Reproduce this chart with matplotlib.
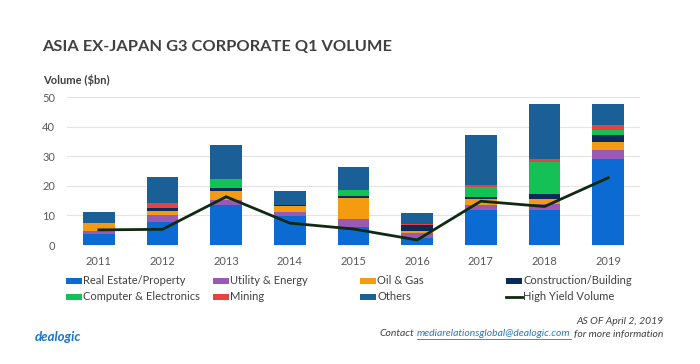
import matplotlib
matplotlib.use("Agg")
import matplotlib.pyplot as plt
import numpy as np
from matplotlib.patches import Patch, Rectangle
from matplotlib.lines import Line2D

years = ["2011", "2012", "2013", "2014", "2015", "2016", "2017", "2018", "2019"]
real_estate = [3.6, 7.7, 13.6, 9.9, 6.1, 2.4, 11.9, 11.7, 28.9]
utility = [1.0, 2.4, 1.6, 1.4, 2.8, 1.6, 1.5, 2.1, 3.3]
oil_gas = [2.7, 1.5, 2.9, 1.9, 7.1, 0.7, 2.0, 1.8, 2.6]
construction = [0.3, 1.0, 1.0, 0.3, 0.6, 2.1, 0.7, 1.6, 2.4]
computer = [0.0, 0.0, 3.3, 0.0, 2.0, 0.0, 3.4, 10.7, 1.5]
mining = [0.0, 1.5, 0.0, 0.0, 0.0, 0.3, 0.7, 1.0, 1.7]
others = [3.5, 9.0, 11.5, 4.8, 7.8, 3.7, 17.1, 18.7, 7.1]
high_yield = [5.1, 5.3, 16.3, 7.4, 5.4, 1.7, 14.8, 13.0, 22.7]

series = [
    ("Real Estate/Property", real_estate, "#0b6bd3"),
    ("Utility & Energy", utility, "#9b59b6"),
    ("Oil & Gas", oil_gas, "#f39c12"),
    ("Construction/Building", construction, "#0a2b5c"),
    ("Computer & Electronics", computer, "#13c157"),
    ("Mining", mining, "#e8413e"),
    ("Others", others, "#1a5f96"),
]
hy_color = "#0f2a12"

plt.rcParams["font.family"] = ["Lato", "DejaVu Sans"]

fig = plt.figure(figsize=(7.0, 3.64), dpi=100)
ax = fig.add_axes([67 / 700, 1 - 245 / 364, 573 / 700, 148 / 364])

x = np.arange(len(years))
bottom = np.zeros(len(years))
for name, vals, col in series:
    v = np.array(vals)
    ax.bar(x, v, width=0.5, bottom=bottom, color=col, zorder=2, linewidth=0)
    bottom += v
ax.plot(x, high_yield, color=hy_color, linewidth=2.0, zorder=3)

ax.set_xlim(-0.5, len(years) - 0.5)
ax.set_ylim(0, 50)
ax.set_yticks([0, 10, 20, 30, 40, 50])
ax.set_xticks(x)
ax.set_xticklabels(years)
ax.yaxis.grid(True, color="#e3e3e3", linewidth=0.8, zorder=0)
ax.set_axisbelow(True)
for s in ax.spines.values():
    s.set_visible(False)
ax.tick_params(axis="both", length=0, labelsize=8, colors="#595959")
ax.tick_params(axis="y", pad=8.5)
ax.tick_params(axis="x", pad=8)

fig.text(42 / 700, 1 - 47 / 364, "ASIA EX-JAPAN G3 CORPORATE Q1 VOLUME",
         fontsize=11.8, fontweight="bold", color="#404040", va="center", ha="left")
fig.text(43 / 700, 1 - 80 / 364, "Volume ($bn)", fontsize=8, fontweight="bold",
         color="#404040", va="center", ha="left")

# legend
handles = []
for name, vals, col in series:
    handles.append(Patch(facecolor=col, edgecolor="none", label=name))
handles.append(Line2D([0], [0], color=hy_color, linewidth=2, label="High Yield Volume"))
cols_x = [66, 213, 360, 506]
rows_y = [281, 297]
for i, h in enumerate(handles):
    r, c = divmod(i, 4)
    px = cols_x[c]
    py = rows_y[r]
    if isinstance(h, Patch):
        fig.patches.append(Rectangle(
            (px / 700, 1 - (py + 3) / 364), 16 / 700, 6 / 364,
            transform=fig.transFigure, facecolor=h.get_facecolor(), edgecolor="none"))
    else:
        fig.lines.append(Line2D([px / 700, (px + 16) / 700], [1 - py / 364, 1 - py / 364],
                                transform=fig.transFigure, color=hy_color, linewidth=2))
    fig.text((px + 17) / 700, 1 - py / 364, h.get_label(), fontsize=8,
             color="#404040", va="center", ha="left")

# footer
fig.text(35 / 700, 1 - 337 / 364, "dealogic", fontsize=9.5, fontweight="bold",
         style="italic", color="#1a75c9", va="center", ha="left")
fig.text(663 / 700, 1 - 322 / 364, "AS OF April 2, 2019", fontsize=7.5,
         style="italic", color="#404040", va="center", ha="right")
t1 = fig.text(663 / 700, 1 - 334 / 364, "for more information", fontsize=7.5,
              style="italic", color="#404040", va="center", ha="right")
fig.canvas.draw()
r = fig.canvas.get_renderer()
bb1 = t1.get_window_extent(r)
t2 = fig.text((bb1.x0 - 3) / 700, 1 - 334 / 364, "mediarelationsglobal@dealogic.com",
              fontsize=7.5, style="italic", color="#2a7ab8", va="center", ha="right")
bb2 = t2.get_window_extent(r)
fig.lines.append(Line2D([bb2.x0 / 700, bb2.x1 / 700], [(bb2.y0 - 0.5) / 364, (bb2.y0 - 0.5) / 364],
                        transform=fig.transFigure, color="#2a7ab8", linewidth=0.6))
fig.text((bb2.x0 - 3) / 700, 1 - 334 / 364, "Contact", fontsize=7.5,
         style="italic", color="#404040", va="center", ha="right")

fig.savefig("out.png", dpi=100, facecolor="white")
